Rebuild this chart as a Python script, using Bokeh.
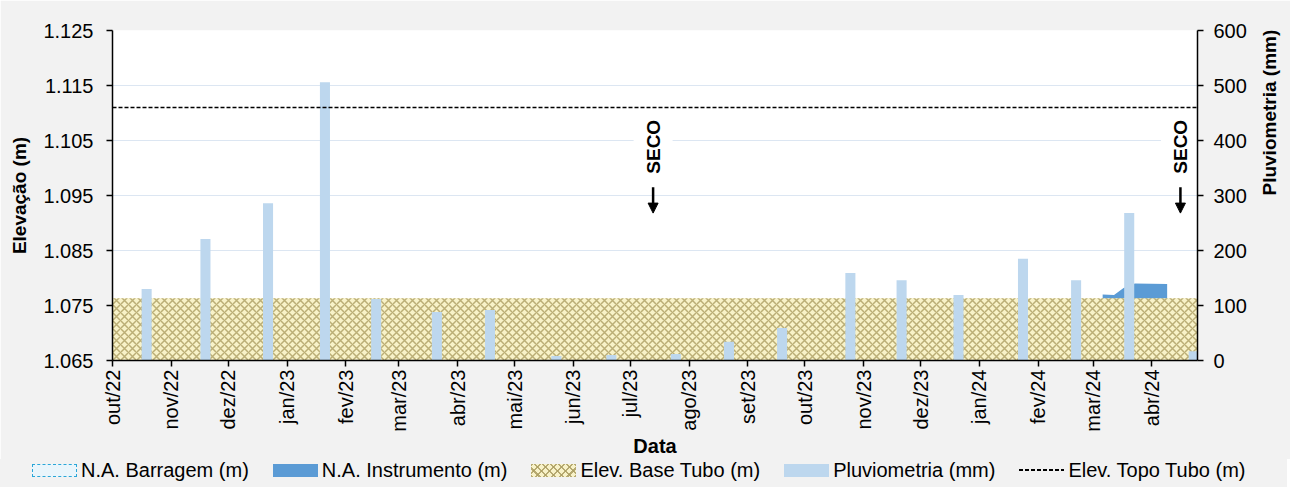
import pandas as pd
from math import pi
from bokeh.plotting import figure
from bokeh.layouts import column
from bokeh.models import (ColumnDataSource, Range1d, LinearAxis, FixedTicker,
                          CustomJSTickFormatter, PrintfTickFormatter, Arrow,
                          NormalHead, Div)
from bokeh.core.properties import value
from bokeh.embed import file_html
from bokeh.resources import INLINE

# ---------------- data ----------------
month_starts = ["2022-10-01", "2022-11-01", "2022-12-01", "2023-01-01", "2023-02-01",
                "2023-03-01", "2023-04-01", "2023-05-01", "2023-06-01", "2023-07-01",
                "2023-08-01", "2023-09-01", "2023-10-01", "2023-11-01", "2023-12-01",
                "2024-01-01", "2024-02-01", "2024-03-01", "2024-04-01"]
month_labels = ["out/22", "nov/22", "dez/22", "jan/23", "fev/23", "mar/23", "abr/23",
                "mai/23", "jun/23", "jul/23", "ago/23", "set/23", "out/23", "nov/23",
                "dez/23", "jan/24", "fev/24", "mar/24", "abr/24"]

rain_dates = ["2022-10-19", "2022-11-19", "2022-12-22", "2023-01-21", "2023-02-17",
              "2023-03-21", "2023-04-18", "2023-05-23", "2023-06-21", "2023-07-25",
              "2023-08-22", "2023-09-19", "2023-10-25", "2023-11-21", "2023-12-21",
              "2024-01-24", "2024-02-21", "2024-03-20", "2024-04-23"]
rain_mm = [130, 221, 286, 506, 112, 88, 92, 8, 10, 12, 34, 59, 159, 146, 119, 185, 146, 268, 17]

na_inst_dates = ["2024-03-06", "2024-03-12", "2024-03-17", "2024-03-23", "2024-04-09"]
na_inst_values = [1.0770, 1.0769, 1.0782, 1.0790, 1.0789]

tube_dates = ["2022-10-01", "2024-04-25"]
na_barr_values = [float("nan"), float("nan")]
base_tubo_values = [1.0763, 1.0763]
topo_tubo_values = [1.1110, 1.1110]

seco_dates = ["2023-07-13", "2024-04-16"]
seco_labels = ["SECO", "SECO"]

elev_ticks = [1.065, 1.075, 1.085, 1.095, 1.105, 1.115, 1.125]
pluv_ticks = [0, 100, 200, 300, 400, 500, 600]

legend_labels = ["N.A. Barragem (m)", "N.A. Instrumento (m)", "Elev. Base Tubo (m)",
                 "Pluviometria (mm)", "Elev. Topo Tubo (m)"]

# ---------------- helpers ----------------
FONT = "Liberation Sans"
BG = "#f2f2f2"
def ms(d):
    return pd.Timestamp(d).value / 1e6

x_start, x_end = pd.Timestamp("2022-10-01"), pd.Timestamp("2024-04-25")
y_lo, y_hi = 1.065, 1.125

p = figure(frame_width=1085, frame_height=330, x_axis_type="datetime",
           x_range=Range1d(x_start, x_end), y_range=Range1d(y_lo, y_hi),
           output_backend="svg", toolbar_location=None,
           min_border_left=112, min_border_right=90, min_border_top=30,
           min_border_bottom=95)
p.extra_y_ranges = {"pluv": Range1d(0, 600)}
p.background_fill_color = "white"
p.border_fill_color = BG
p.outline_line_color = None
p.xgrid.visible = False
p.ygrid.grid_line_color = "#dce6f2"
p.ygrid.grid_line_width = 1

# sources
src_barr = ColumnDataSource(dict(x=pd.to_datetime(tube_dates), y=na_barr_values))
src_inst = ColumnDataSource(dict(x=pd.to_datetime(na_inst_dates), y=na_inst_values))
src_base = ColumnDataSource(dict(x=pd.to_datetime(tube_dates), y=base_tubo_values))
src_rain = ColumnDataSource(dict(x=pd.to_datetime(rain_dates), top=rain_mm))
src_topo = ColumnDataSource(dict(x=pd.to_datetime(tube_dates), y=topo_tubo_values))
src_seco = ColumnDataSource(dict(x=pd.to_datetime(seco_dates), t=seco_labels))

HATCH_C = "#ab9d62"
BASE_FILL = "#f8f2c8"
p.quad(left="x", right="x", bottom=y_lo, top="y", source=src_barr,
       fill_color="#eaf5fb", line_color="#2aa6d8", line_dash="3 1", line_width=1.5)
p.varea(x="x", y1=y_lo, y2="y", source=src_inst, fill_color="#5b9bd5")
p.varea(x="x", y1=y_lo, y2="y", source=src_base, fill_color=BASE_FILL,
        hatch_pattern="diagonal_cross", hatch_color=HATCH_C, hatch_scale=8,
        hatch_weight=1.5, hatch_alpha=0.8)
p.vbar(x="x", top="top", bottom=0, width=5.3 * 86400000, source=src_rain,
       y_range_name="pluv", fill_color="#bdd7ee", line_color=None)
p.line(x="x", y="y", source=src_topo, line_color="black", line_width=1.5,
       line_dash="4 2")

# SECO annotations
p.text(x="x", y=1.0986, text="t", source=src_seco, angle=pi / 2,
       text_align="left", text_baseline="middle", text_font=value(FONT),
       text_font_style="bold", text_font_size="19px", text_color="black",
       background_fill_color="white",
       padding=dict(left=2, right=2, top=9, bottom=9))
for d in seco_dates:
    p.add_layout(Arrow(end=NormalHead(size=10, fill_color="black", line_color="black"),
                       x_start=ms(d), y_start=1.0965, x_end=ms(d), y_end=1.0918,
                       line_width=2.5, line_color="black"))

# ---------------- axes ----------------
ax_l = p.yaxis[0]
ax_l.ticker = FixedTicker(ticks=elev_ticks)
ax_l.formatter = PrintfTickFormatter(format="%.3f")
ax_l.axis_label = "Elevação (m)"

ax_r = LinearAxis(y_range_name="pluv", ticker=FixedTicker(ticks=pluv_ticks),
                  axis_label="Pluviometria (mm)")
p.add_layout(ax_r, "right")
ax_r.axis_label_orientation = pi / 2

month_ms = [ms(d) for d in month_starts]
ax_b = p.xaxis[0]
ax_b.ticker = FixedTicker(ticks=month_ms)
ax_b.formatter = CustomJSTickFormatter(
    args=dict(lbl=month_labels, tk=month_ms),
    code="""
    for (let i = 0; i < tk.length; i++) {
        if (Math.abs(tk[i] - tick) < 3600000) return lbl[i];
    }
    return '';
    """)
ax_b.major_label_orientation = pi / 2
ax_b.axis_label = "Data"

for ax in (ax_l, ax_r, ax_b):
    ax.axis_line_color = "black"
    ax.axis_line_width = 1.5
    ax.major_tick_line_color = "black"
    ax.major_tick_line_width = 1.5
    ax.major_tick_out = 6
    ax.major_tick_in = 0
    ax.minor_tick_line_color = None
    ax.major_label_text_font = FONT
    ax.major_label_text_font_size = "20px"
    ax.major_label_text_color = "black"
    ax.axis_label_text_font = FONT
    ax.axis_label_text_font_style = "bold"
    ax.axis_label_text_font_size = "19px"
    ax.axis_label_text_color = "black"

ax_l.major_label_standoff = 13
ax_l.axis_label_standoff = 10
ax_r.major_label_standoff = 10
ax_r.axis_label_standoff = 20
ax_b.major_label_standoff = 3
ax_b.axis_label_standoff = 0
ax_b.axis_label_text_font_size = "20px"

# ---------------- legend (HTML strip under the chart) ----------------
def swatch(style):
    return ('<span style="display:inline-block;width:45px;height:13px;'
            'box-sizing:border-box;flex:none;' + style + '"></span>')

hatch_css = ("background:repeating-linear-gradient(45deg, rgba(171,157,98,0.85) 0 1.5px, "
             "transparent 1.5px 5.6px), repeating-linear-gradient(-45deg, "
             "rgba(171,157,98,0.85) 0 1.5px, transparent 1.5px 5.6px), " + BASE_FILL + ";")
swatches = [
    swatch("background:#eaf5fb;border:1.5px dashed #2aa6d8;"),
    swatch("background:#5b9bd5;"),
    swatch(hatch_css),
    swatch("background:#bdd7ee;"),
    ('<span style="display:inline-block;width:45px;height:1.5px;flex:none;'
     'background:repeating-linear-gradient(90deg, black 0 4px, transparent 4px 6px);"></span>'),
]
items_html = "".join(
    '<span style="display:flex;align-items:center;margin-right:24px;">' + s +
    '<span style="margin-left:4px;">' + t + '</span></span>'
    for s, t in zip(swatches, legend_labels))
legend_html = ('<div style="display:flex;align-items:center;height:22px;padding-left:32px;'
               "font-family:'Liberation Sans';font-size:20px;color:black;"
               'white-space:nowrap;line-height:22px;">' + items_html + '</div>')

leg = Div(text=legend_html, width=1287, height=29, margin=(0, 0, 0, 0),
          styles={"background-color": BG})

layout = column(p, leg, spacing=0)
open("out.html", "w").write(file_html(layout, INLINE))
